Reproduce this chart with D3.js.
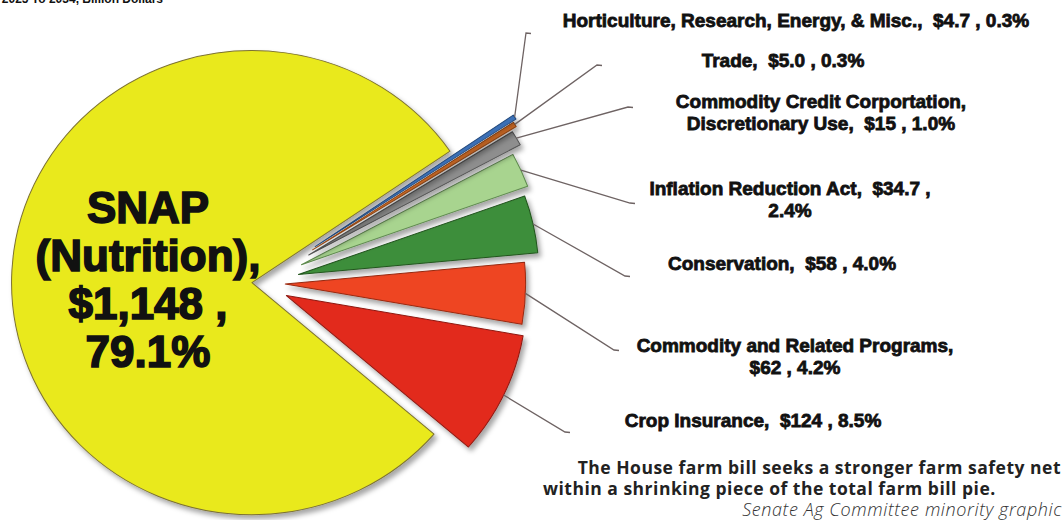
<!DOCTYPE html>
<html>
<head>
<meta charset="utf-8">
<script src="https://cdn.jsdelivr.net/npm/d3@7"></script>
<style>
  body { margin: 0; background: #fff; }
  svg { display: block; }
  .lbl { font-family: "Liberation Sans", Arial, sans-serif; font-weight: bold; fill: #111; white-space: pre; }
</style>
</head>
<body>
<div id="chart"></div>
<script>
// Farm bill outlays, billion dollars (clockwise from the top of the exploded wedge)
const categories = [
    'Horticulture, Research, Energy, & Misc.',
    'Trade',
    'Commodity Credit Corportation, Discretionary Use',
    'Inflation Reduction Act',
    'Conservation',
    'Commodity and Related Programs',
    'Crop Insurance',
    'SNAP (Nutrition)'
];
const values = [4.7, 5.0, 15, 34.7, 58, 62, 124, 1148];
const valueLabels = ['$4.7', '$5.0', '$15', '$34.7', '$58', '$62', '$124', '$1,148'];
const shareLabels = ['0.3%', '0.3%', '1.0%', '2.4%', '4.0%', '4.2%', '8.5%', '79.1%'];

// styling / layout
const fills   = ['#3b6fb6', '#e8782a', '#8e8e8e', '#a8d48f', '#3e8e3a', '#ee4524', '#e2291f', '#e9e91a'];
const strokes = ['#24497a', '#9a4a15', '#555555', '#5f8a4f', '#22561f', '#9a2a12', '#8f1a12', '#7d7232'];
const explode = [67, 63, 57, 46, 40, 26, 30, 7];
const labelPos = [
    { x: 796, y: 27 }, { x: 783, y: 67 }, { x: 821, y: 108 }, { x: 790, y: 195 },
    { x: 782, y: 270 }, { x: 795, y: 352 }, { x: 753, y: 427 }
];
const leaderEnds = [[526, 33], [597, 65], [628, 107], [630, 203], [625, 276], [614, 350], [565, 432]];
const breakAfter = [null, null, 'Corportation,', '$34.7 ,', null, 'Programs,', null];

const width = 1063, height = 520;
const cx = 259, cy = 283, radius = 238;
const sx = 1.01, sy = 0.975;   // the source pie is slightly squashed

const svg = d3.select('#chart').append('svg')
    .attr('width', width)
    .attr('height', height);

const defs = svg.append('defs');
const shadow = defs.append('filter').attr('id', 'shadow')
    .attr('x', '-20%').attr('y', '-20%').attr('width', '140%').attr('height', '140%');
shadow.append('feDropShadow')
    .attr('dx', 3).attr('dy', 4).attr('stdDeviation', 2.5)
    .attr('flood-color', '#000').attr('flood-opacity', 0.35);

// cut-off subtitle at the top edge
svg.append('text')
    .attr('class', 'lbl')
    .attr('x', 163).attr('y', 3)
    .attr('text-anchor', 'end')
    .attr('font-size', 12)
    .attr('fill', '#333')
    .text('Outlays FY 2025 To 2034, Billion Dollars');

const pie = d3.pie().sort(null)
    .startAngle(55.5 * Math.PI / 180)
    .endAngle(415.5 * Math.PI / 180);
const arcs = pie(values);
const arc = d3.arc().innerRadius(0).outerRadius(radius);

const dir = a => [Math.sin(a), -Math.cos(a)];

const g = svg.append('g').attr('transform', `translate(${cx},${cy}) scale(${sx},${sy})`);

// draw big slice first, then small ones on top
const order = [7, 6, 5, 4, 3, 2, 1, 0];
g.selectAll('path.slice')
    .data(order.map(i => arcs[i]))
    .join('path')
    .attr('class', 'slice')
    .attr('d', arc)
    .attr('transform', d => {
        const m = (d.startAngle + d.endAngle) / 2;
        const [dx, dy] = dir(m);
        return `translate(${dx * explode[d.index]},${dy * explode[d.index]})`;
    })
    .attr('fill', d => fills[d.index])
    .attr('stroke', d => strokes[d.index])
    .attr('stroke-width', 1)
    .attr('stroke-linejoin', 'round')
    .attr('filter', 'url(#shadow)');

// leader lines
const leaders = arcs.slice(0, 7).map((d, i) => {
    const m = (d.startAngle + d.endAngle) / 2;
    const [dx, dy] = dir(m);
    const k = radius + explode[i];
    const x0 = cx + dx * k * sx, y0 = cy + dy * k * sy;
    const [ex, ey] = leaderEnds[i];
    return [[x0, y0], [ex, ey], [ex + 5, ey + 0.5]];
});
svg.append('g').selectAll('path')
    .data(leaders)
    .join('path')
    .attr('d', d3.line())
    .attr('fill', 'none')
    .attr('stroke', '#6e6363')
    .attr('stroke-width', 1.3);

// slice labels
const labelText = (i) => {
    const full = `${categories[i]},  ${valueLabels[i]} , ${shareLabels[i]}`;
    const b = breakAfter[i];
    if (!b) return [full];
    const at = full.indexOf(b) + b.length;
    return [full.slice(0, at).trim(), full.slice(at).trim()];
};

const lg = svg.append('g');
labelPos.forEach((p, i) => {
    const t = lg.append('text')
        .attr('class', 'lbl')
        .attr('x', p.x).attr('y', p.y)
        .attr('text-anchor', 'middle')
        .attr('font-size', 19)
        .attr('stroke', '#111').attr('stroke-width', 0.8);
    labelText(i).forEach((line, j) => {
        t.append('tspan')
            .attr('x', p.x)
            .attr('dy', j === 0 ? 0 : 22)
            .text(line);
    });
});

// SNAP label inside the yellow slice
const snapLines = ['SNAP', '(Nutrition),', `${valueLabels[7]} ,`, shareLabels[7]];
const st = svg.append('text')
    .attr('class', 'lbl')
    .attr('x', 148).attr('y', 223)
    .attr('text-anchor', 'middle')
    .attr('font-size', 44)
    .attr('stroke', '#111').attr('stroke-width', 1.6);
snapLines.forEach((line, j) => {
    st.append('tspan').attr('x', 148).attr('dy', j === 0 ? 0 : 48).text(line);
});

// caption
const cap = svg.append('g').attr('font-family', '"Open Sans", "DejaVu Sans", sans-serif');
cap.append('text')
    .attr('x', 1061).attr('y', 474)
    .attr('text-anchor', 'end')
    .attr('font-size', 17.5).attr('font-weight', 'bold').attr('fill', '#222')
    .attr('letter-spacing', 0.5)
    .text('The House farm bill seeks a stronger farm safety net');
cap.append('text')
    .attr('x', 543).attr('y', 495)
    .attr('font-size', 17.5).attr('font-weight', 'bold').attr('fill', '#222')
    .attr('letter-spacing', 0.5)
    .text('within a shrinking piece of the total farm bill pie.');
cap.append('text')
    .attr('x', 1062).attr('y', 516)
    .attr('text-anchor', 'end')
    .attr('font-size', 18).attr('font-style', 'italic').attr('font-weight', 300).attr('fill', '#333')
    .attr('letter-spacing', 0.6)
    .text('Senate Ag Committee minority graphic');
</script>
</body>
</html>
